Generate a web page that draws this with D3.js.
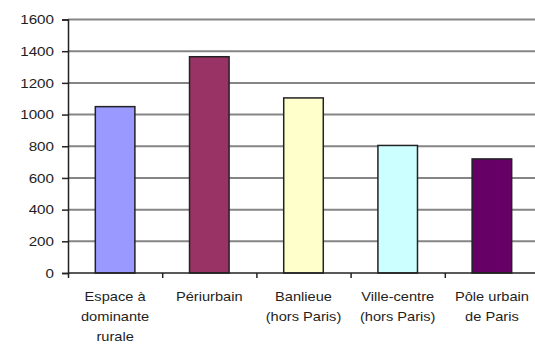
<!DOCTYPE html>
<html><head><meta charset="utf-8">
<script src="https://cdn.jsdelivr.net/npm/d3@7"></script>
<style>body{margin:0;background:#fff}svg{display:block}</style>
</head><body>
<script>
const categories = [["Espace à","dominante","rurale"],["Périurbain"],["Banlieue","(hors Paris)"],["Ville-centre","(hors Paris)"],["Pôle urbain","de Paris"]];
const values = [1050, 1365, 1105, 805, 720];
const colors = ["#9999FF","#993366","#FFFFCC","#CCFFFF","#660066"];
const yTicks = [0,200,400,600,800,1000,1200,1400,1600];

const W=535,H=346;
const FONT="Liberation Sans, Arial, sans-serif";
const svg=d3.select("body").append("svg").attr("width",W).attr("height",H);
const x0=68, x1=539, yTop=19.5, yBot=273;
const x=d3.scaleBand().domain(d3.range(values.length)).range([x0,x1]).paddingInner(0.58).paddingOuter(0.29);
const y=d3.scaleLinear().domain([0,1600]).range([yBot,yTop]);

// gridlines
svg.append("g").selectAll("line").data(yTicks.filter(d=>d>0)).join("line")
  .attr("x1",x0).attr("x2",W).attr("y1",d=>y(d)).attr("y2",d=>y(d))
  .attr("stroke","#858585").attr("stroke-width",2);

// bars
svg.append("g").selectAll("rect").data(values).join("rect")
  .attr("x",(d,i)=>x(i)).attr("width",x.bandwidth())
  .attr("y",d=>y(d)).attr("height",d=>yBot-y(d))
  .attr("fill",(d,i)=>colors[i]).attr("stroke","#222").attr("stroke-width",1.5);

// y axis
const ya=svg.append("g").attr("transform",`translate(${x0},0)`)
  .call(d3.axisLeft(y).tickValues(yTicks).tickSize(6).tickPadding(8).tickFormat(d3.format("d")));
ya.select(".domain").attr("stroke","#222").attr("stroke-width",1.5);
ya.selectAll(".tick line").attr("stroke","#222").attr("stroke-width",1.5);
ya.selectAll("text").attr("font-family",FONT).attr("font-size",13).attr("fill","#1e1e1e")
  .attr("x",0).attr("transform","translate(-14,0) scale(1.17,1)");

// x axis
const xs=d3.scaleLinear().domain([0,values.length]).range([x0,x1]);
const xa=svg.append("g").attr("transform",`translate(0,${yBot})`)
  .call(d3.axisBottom(xs).tickValues(d3.range(0,values.length+1)).tickSize(5).tickFormat(""));
xa.select(".domain").attr("stroke","#222").attr("stroke-width",1.5).attr("d",`M${x0},0H${W}`);
xa.selectAll(".tick line").attr("stroke","#222").attr("stroke-width",1.5);

// x labels
const lab=svg.append("g").selectAll("text").data(categories).join("text")
  .attr("text-anchor","middle").attr("font-family",FONT)
  .attr("font-size",12).attr("fill","#1e1e1e")
  .attr("transform",(d,i)=>`translate(${x(i)+x.bandwidth()/2},0) scale(1.22,1)`);
lab.each(function(lines){
  const t=d3.select(this);
  lines.forEach((l,j)=>t.append("tspan").attr("x",0).attr("y",301+j*20).text(l));
});
</script>
</body></html>
